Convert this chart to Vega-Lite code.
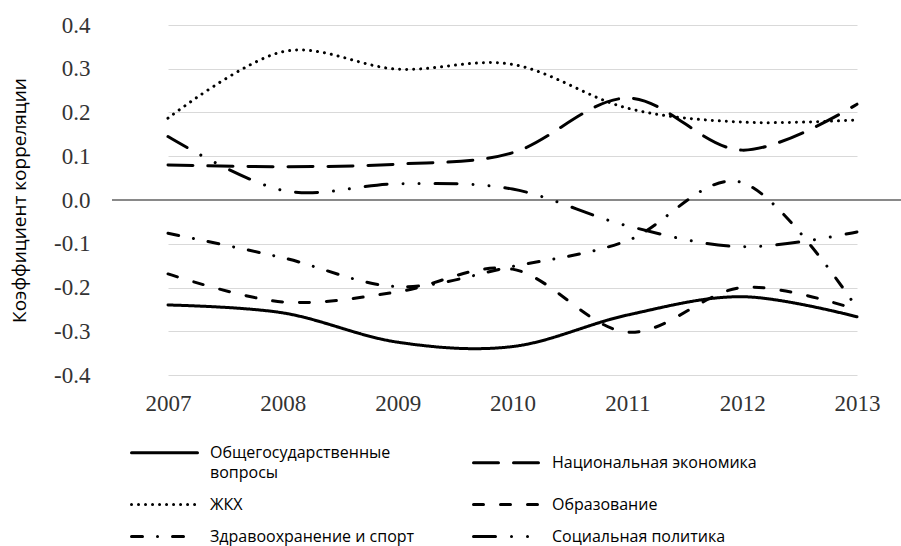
{
  "$schema": "https://vega.github.io/schema/vega-lite/v6.json",
  "width": 789,
  "height": 350,
  "autosize": {"type": "none"},
  "padding": {"left": 112, "top": 25, "right": 0, "bottom": 171},
  "background": "white",
  "config": {"view": {"stroke": null}},
  "data": {
    "values": [
      {"year": "2007", "series": "Общегосударственные вопросы", "value": -0.24},
      {"year": "2008", "series": "Общегосударственные вопросы", "value": -0.258},
      {"year": "2009", "series": "Общегосударственные вопросы", "value": -0.325},
      {"year": "2010", "series": "Общегосударственные вопросы", "value": -0.335},
      {"year": "2011", "series": "Общегосударственные вопросы", "value": -0.263},
      {"year": "2012", "series": "Общегосударственные вопросы", "value": -0.221},
      {"year": "2013", "series": "Общегосударственные вопросы", "value": -0.267},
      {"year": "2007", "series": "Национальная экономика", "value": 0.08},
      {"year": "2008", "series": "Национальная экономика", "value": 0.076},
      {"year": "2009", "series": "Национальная экономика", "value": 0.082},
      {"year": "2010", "series": "Национальная экономика", "value": 0.108},
      {"year": "2011", "series": "Национальная экономика", "value": 0.233},
      {"year": "2012", "series": "Национальная экономика", "value": 0.114},
      {"year": "2013", "series": "Национальная экономика", "value": 0.219},
      {"year": "2007", "series": "ЖКХ", "value": 0.187},
      {"year": "2008", "series": "ЖКХ", "value": 0.339},
      {"year": "2009", "series": "ЖКХ", "value": 0.299},
      {"year": "2010", "series": "ЖКХ", "value": 0.31},
      {"year": "2011", "series": "ЖКХ", "value": 0.21},
      {"year": "2012", "series": "ЖКХ", "value": 0.178},
      {"year": "2013", "series": "ЖКХ", "value": 0.183},
      {"year": "2007", "series": "Образование", "value": -0.169},
      {"year": "2008", "series": "Образование", "value": -0.233},
      {"year": "2009", "series": "Образование", "value": -0.21},
      {"year": "2010", "series": "Образование", "value": -0.158},
      {"year": "2011", "series": "Образование", "value": -0.302},
      {"year": "2012", "series": "Образование", "value": -0.2},
      {"year": "2013", "series": "Образование", "value": -0.251},
      {"year": "2007", "series": "Здравоохранение и спорт", "value": -0.076},
      {"year": "2008", "series": "Здравоохранение и спорт", "value": -0.132},
      {"year": "2009", "series": "Здравоохранение и спорт", "value": -0.198},
      {"year": "2010", "series": "Здравоохранение и спорт", "value": -0.152},
      {"year": "2011", "series": "Здравоохранение и спорт", "value": -0.093},
      {"year": "2012", "series": "Здравоохранение и спорт", "value": 0.04},
      {"year": "2013", "series": "Здравоохранение и спорт", "value": -0.247},
      {"year": "2007", "series": "Социальная политика", "value": 0.145},
      {"year": "2008", "series": "Социальная политика", "value": 0.022},
      {"year": "2009", "series": "Социальная политика", "value": 0.037},
      {"year": "2010", "series": "Социальная политика", "value": 0.025},
      {"year": "2011", "series": "Социальная политика", "value": -0.059},
      {"year": "2012", "series": "Социальная политика", "value": -0.107},
      {"year": "2013", "series": "Социальная политика", "value": -0.073}
    ]
  },
  "layer": [
    {
      "mark": {"type": "rule", "color": "#898989", "strokeWidth": 2},
      "encoding": {
        "y": {
          "datum": 0,
          "type": "quantitative",
          "scale": {"domain": [-0.4, 0.4]},
          "axis": {
            "title": "Коэффициент корреляции",
            "values": [-0.4, -0.3, -0.2, -0.1, 0, 0.1, 0.2, 0.3, 0.4],
            "labelExpr": "replace(format(datum.value, '.1f'), '\u2212', '-')",
            "labelFont": "Liberation Serif",
            "labelFontSize": 23,
            "labelColor": "#333333",
            "labelPadding": 22,
            "ticks": false,
            "domain": false,
            "grid": true,
            "gridColor": "#d9d9d9",
            "gridWidth": 1,
            "titleFont": "Open Sans",
            "titleFontSize": 19,
            "titleFontWeight": "normal",
            "titleColor": "#000000",
            "titlePadding": 24
          }
        }
      }
    },
    {
      "mark": {"type": "line", "interpolate": "cardinal", "strokeWidth": 3, "strokeCap": "round", "color": "black"},
      "encoding": {
        "x": {
          "field": "year",
          "type": "ordinal",
          "scale": {"type": "point", "range": [56, 745], "padding": 0},
          "axis": {
            "title": null,
            "labelAngle": 0,
            "labelFont": "Liberation Serif",
            "labelFontSize": 23,
            "labelColor": "#333333",
            "labelPadding": 17,
            "ticks": false,
            "domain": false,
            "grid": false
          }
        },
        "y": {
          "field": "value",
          "type": "quantitative",
          "scale": {"domain": [-0.4, 0.4]},
          "axis": {
            "title": "Коэффициент корреляции",
            "values": [-0.4, -0.3, -0.2, -0.1, 0, 0.1, 0.2, 0.3, 0.4],
            "labelExpr": "replace(format(datum.value, '.1f'), '\u2212', '-')",
            "labelFont": "Liberation Serif",
            "labelFontSize": 23,
            "labelColor": "#333333",
            "labelPadding": 22,
            "ticks": false,
            "domain": false,
            "grid": true,
            "gridColor": "#d9d9d9",
            "gridWidth": 1,
            "titleFont": "Open Sans",
            "titleFontSize": 19,
            "titleFontWeight": "normal",
            "titleColor": "#000000",
            "titlePadding": 24
          }
        },
        "strokeDash": {
          "field": "series",
          "type": "nominal",
          "scale": {
            "domain": ["Общегосударственные вопросы", "Национальная экономика", "ЖКХ", "Образование", "Здравоохранение и спорт", "Социальная политика"],
            "range": [[1, 0], [25, 15], [0.01, 7], [10, 17], [11, 15, 0.01, 15], [22, 16, 0.01, 16, 0.01, 16]]
          },
          "legend": {
            "orient": "none",
            "direction": "horizontal",
            "legendX": 18,
            "legendY": 416,
            "columns": 2,
            "title": null,
            "padding": 0,
            "symbolType": "M-1,0H5.6",
            "symbolSize": 400,
            "symbolStrokeWidth": 3,
            "symbolStrokeColor": "black",
            "labelFont": "Open Sans",
            "labelFontSize": 16,
            "labelColor": "#000000",
            "labelLimit": 400,
            "labelOffset": 57,
            "columnPadding": 52,
            "rowPadding": 12,
            "labelExpr": "datum.label == 'Общегосударственные вопросы' ? ['Общегосударственные', 'вопросы'] : datum.label",
            "encode": {
              "symbols": {"update": {"strokeCap": {"value": "round"}}},
              "labels": {"update": {"lineHeight": {"value": 20}}}
            }
          }
        }
      }
    }
  ]
}
